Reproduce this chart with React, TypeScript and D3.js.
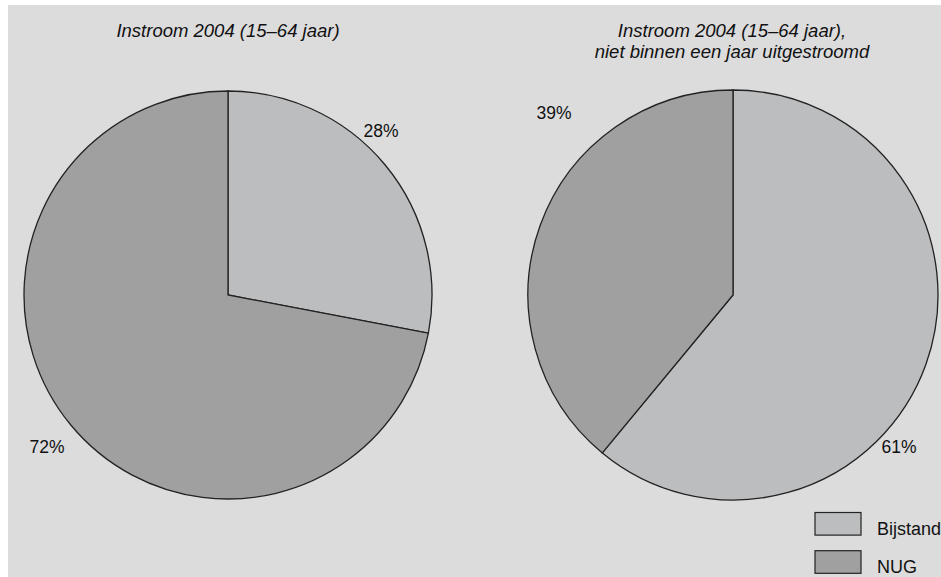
import React from "react";
import * as d3 from "d3";

const categories = ["Bijstand", "NUG"];
const pie1Values = [28, 72];
const pie2Values = [61, 39];
const pie1Title = ["Instroom 2004 (15–64 jaar)"];
const pie2Title = ["Instroom 2004 (15–64 jaar),", "niet binnen een jaar uitgestroomd"];

const colors = ["#bcbdbe", "#a0a0a1"];
const W = 941, H = 577;
const FONT = "'Liberation Sans', Arial, sans-serif";

function Pie({ cx, cy, r, values, labelPos }: { cx: number; cy: number; r: number; values: number[]; labelPos: [number, number][] }) {
  const arcs = d3.pie<number>().sort(null).value((d) => d)(values);
  const arc = d3.arc<d3.PieArcDatum<number>>().innerRadius(0).outerRadius(r);
  return (
    <g transform={`translate(${cx},${cy})`}>
      {arcs.map((a, i) => (
        <path key={i} d={arc(a) || ""} fill={colors[i]} stroke="#222" strokeWidth={1.3} strokeLinejoin="miter" />
      ))}
      {arcs.map((a, i) => (
        <text key={"t" + i} x={labelPos[i][0]} y={labelPos[i][1]} fontSize={17.5} fill="#111" textAnchor="middle" fontFamily={FONT}>
          {values[i]}%
        </text>
      ))}
    </g>
  );
}

export default function App() {
  return (
    <svg width={W} height={H} style={{ position: "absolute", left: 0, top: 0 }}>
      <rect x={0} y={0} width={W} height={H} fill="#ffffff" />
      <rect x={8} y={5} width={W - 8} height={H - 5} fill="#dcdcdd" />
      <text x={228} y={37} fontSize={18.5} fontStyle="italic" textAnchor="middle" fontFamily={FONT} fill="#111">
        {pie1Title[0]}
      </text>
      {pie2Title.map((t, i) => (
        <text key={i} x={732} y={37 + i * 21} fontSize={18.5} fontStyle="italic" textAnchor="middle" fontFamily={FONT} fill="#111">
          {t}
        </text>
      ))}
      <Pie cx={228} cy={295} r={204} values={pie1Values} labelPos={[[153, -158], [-181, 158]]} />
      <Pie cx={733} cy={295} r={205} values={pie2Values} labelPos={[[166, 158], [-179, -176]]} />
      {categories.map((c, i) => (
        <g key={c}>
          <rect x={815} y={512.5 + i * 38.2} width={46} height={22.6} fill={colors[i]} stroke="#222" strokeWidth={1.2} />
          <text x={877} y={535 + i * 37.7} fontSize={18} fill="#111" fontFamily={FONT}>
            {c}
          </text>
        </g>
      ))}
    </svg>
  );
}
